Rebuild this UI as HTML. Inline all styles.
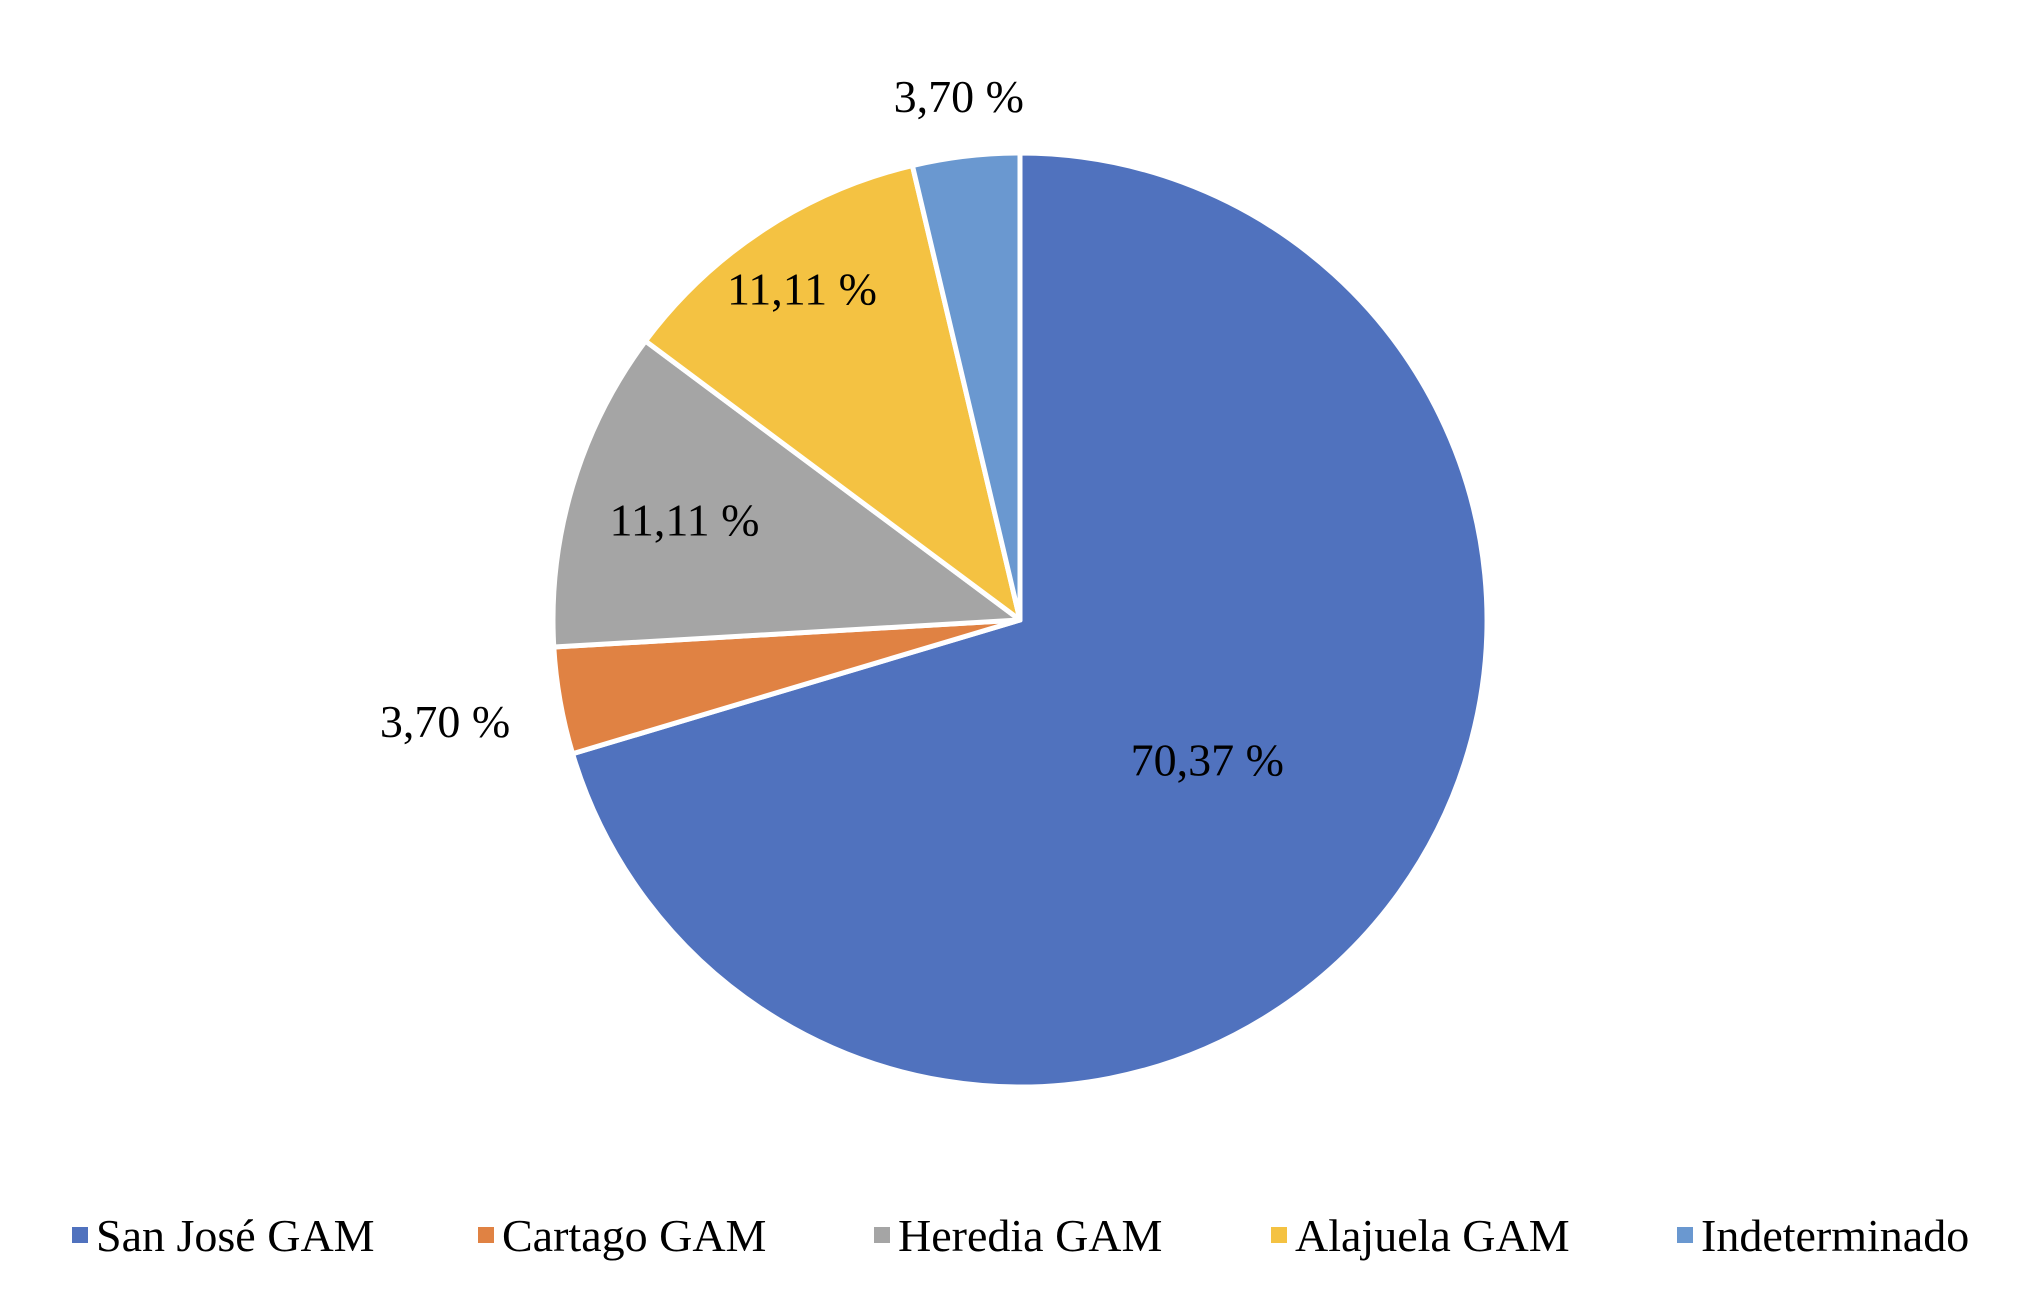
<!DOCTYPE html>
<html><head><meta charset="utf-8"><style>
body{margin:0;background:#fff;}
svg{display:block;font-family:"Liberation Serif",serif;}
</style></head><body>
<svg width="2038" height="1290" viewBox="0 0 2038 1290">
<g id="slices"></g>
<g id="labels"></g>
<g id="legend"></g>
</svg>
<script>
const categories = ["San José GAM","Cartago GAM","Heredia GAM","Alajuela GAM","Indeterminado"];
const values = [70.37, 3.70, 11.11, 11.11, 3.70];
const valueLabels = ["70,37 %","3,70 %","11,11 %","11,11 %","3,70 %"];
const colors = ["#5072be","#e08243","#a5a5a5","#f4c242","#6a98d0"];
const labelRadius = [0.5, 1.25, 0.75, 0.85, 1.13];
const legendX = [72, 478, 874, 1271, 1677];
const cx = 1020, cy = 620, r = 467;
const NS = "http://www.w3.org/2000/svg";
const total = values.reduce((a,b)=>a+b,0);
function pt(angDeg, rad){const a=angDeg*Math.PI/180;return [cx+rad*Math.sin(a), cy-rad*Math.cos(a)];}
const gS=document.getElementById('slices'), gL=document.getElementById('labels'), gG=document.getElementById('legend');
let cum=0;
values.forEach((v,i)=>{
  const a0=cum/total*360, a1=(cum+v)/total*360; cum+=v;
  const p0=pt(a0,r), p1=pt(a1,r);
  const large=(a1-a0)>180?1:0;
  const path=document.createElementNS(NS,'path');
  path.setAttribute('d',`M${cx},${cy} L${p0[0]},${p0[1]} A${r},${r} 0 ${large} 1 ${p1[0]},${p1[1]} Z`);
  path.setAttribute('fill',colors[i]);path.setAttribute('stroke','#fff');path.setAttribute('stroke-width','5');path.setAttribute('stroke-linejoin','round');
  
  
  gS.appendChild(path);
  const lp=pt((a0+a1)/2, r*labelRadius[i]);
  const t=document.createElementNS(NS,'text');
  t.setAttribute('x',lp[0]);t.setAttribute('y',lp[1]+16);t.setAttribute('text-anchor','middle');t.setAttribute('font-size','46');
  t.textContent=valueLabels[i];
  
  
  gL.appendChild(t);
  const sq=document.createElementNS(NS,'rect');
  sq.setAttribute('x',legendX[i]);sq.setAttribute('y',1227);sq.setAttribute('width',16);sq.setAttribute('height',16);sq.setAttribute('fill',colors[i]);
  
  
  gG.appendChild(sq);
  const lt=document.createElementNS(NS,'text');
  lt.setAttribute('x',legendX[i]+24);lt.setAttribute('y',1251);lt.setAttribute('font-size','46');
  lt.textContent=categories[i];
  
  
  gG.appendChild(lt);
});
</script>
</body></html>
